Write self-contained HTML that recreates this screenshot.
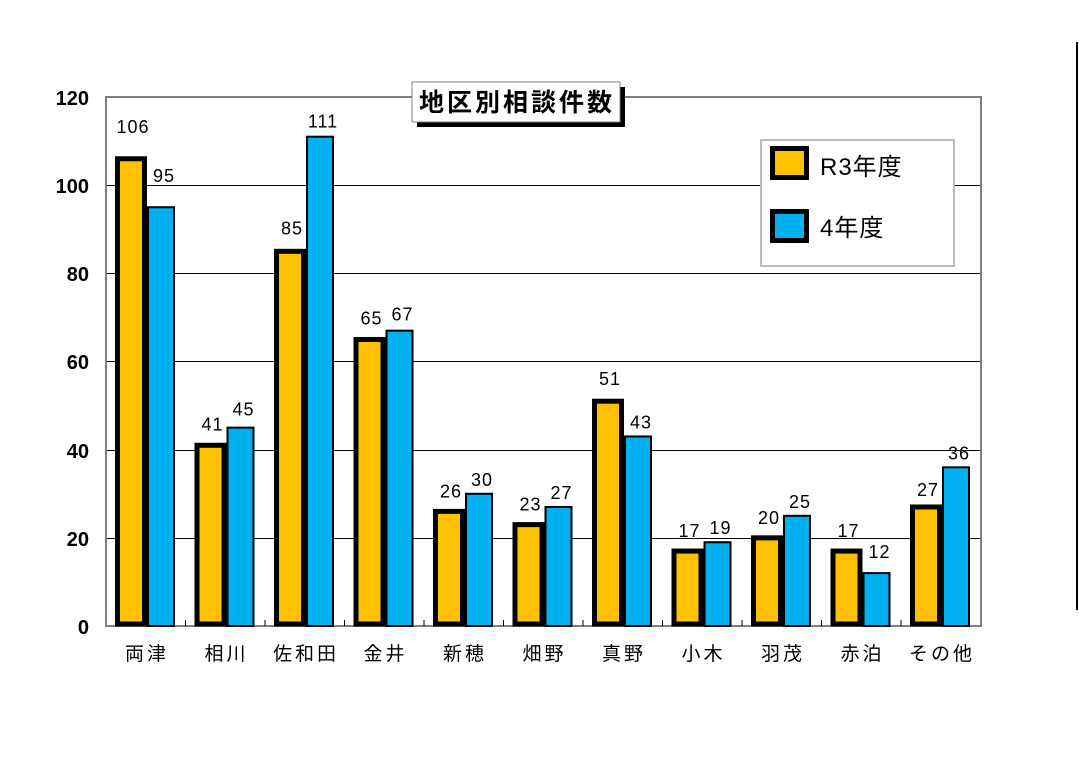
<!DOCTYPE html>
<html><head><meta charset="utf-8"><style>
body{margin:0;background:#fff;}
svg{display:block;}
</style></head><body>
<svg width="1079" height="781" xmlns="http://www.w3.org/2000/svg" font-family="Liberation Sans, Noto Sans CJK JP, sans-serif">
<rect width="1079" height="781" fill="#fff"/>
<line x1="1077" y1="42" x2="1077" y2="610" stroke="#000" stroke-width="2"/>
<g stroke="#000" stroke-width="1">
<line x1="106" x2="981" y1="538.5" y2="538.5"/>
<line x1="106" x2="981" y1="450.5" y2="450.5"/>
<line x1="106" x2="981" y1="361.5" y2="361.5"/>
<line x1="106" x2="981" y1="273.5" y2="273.5"/>
<line x1="106" x2="981" y1="185.5" y2="185.5"/>
</g>
<rect x="106" y="97" width="875" height="529" fill="none" stroke="#808080" stroke-width="2"/>
<g font-weight="bold" font-size="20" text-anchor="end" fill="#000">
<text x="89" y="634">0</text><text x="89" y="546">20</text><text x="89" y="458">40</text>
<text x="89" y="369">60</text><text x="89" y="281">80</text><text x="89" y="193">100</text><text x="89" y="105">120</text>
</g>
<g id="bars"></g>
<g id="labels" font-size="18" text-anchor="middle" letter-spacing="1"></g>
<g id="cats" font-size="19" text-anchor="middle" letter-spacing="3"></g>
<rect x="761" y="140" width="193" height="126" fill="#fff" stroke="#bbb" stroke-width="2"/>
<rect x="772.5" y="148.5" width="34" height="29" fill="#FFC000" stroke="#000" stroke-width="5"/>
<text x="820" y="175" font-size="24" letter-spacing="1">R3年度</text>
<rect x="772.5" y="211.5" width="34" height="29" fill="#00B0F0" stroke="#000" stroke-width="5"/>
<text x="820" y="236" font-size="24" letter-spacing="1">4年度</text>
<rect x="417" y="87" width="208" height="40" fill="#000"/>
<rect x="412" y="82" width="208" height="40" fill="#fff" stroke="#808080" stroke-width="1"/>
<text x="517" y="111" font-size="25" font-weight="bold" text-anchor="middle" letter-spacing="3">地区別相談件数</text>
</svg>
<script>
var cats=["両津","相川","佐和田","金井","新穂","畑野","真野","小木","羽茂","赤泊","その他"];
var a=[106,41,85,65,26,23,51,17,20,17,27],b=[95,45,111,67,30,27,43,19,25,12,36];
var oa=[26,15,17,15,14,14,16,14,14,14,11],ob=[25,12,9,10,8,8,8,8,8,15,8];
var ns="http://www.w3.org/2000/svg",s=4.408,base=626;
function el(t,at,p,tx){var e=document.createElementNS(ns,t);for(var k in at)e.setAttribute(k,at[k]);if(tx!=null)e.textContent=tx;document.getElementById(p).appendChild(e);}
for(var i=0;i<11;i++){var x0=106+79.5*i;
var ta=base-a[i]*s,tb=base-b[i]*s;
el("rect",{x:x0+42,y:tb,width:26,height:base-tb,fill:"#00B0F0",stroke:"#000","stroke-width":2},"bars");
el("rect",{x:x0+11.5,y:ta,width:27,height:base-ta-2,fill:"#FFC000",stroke:"#000","stroke-width":5},"bars");
el("text",{x:x0+27,y:ta-oa[i]},"labels",String(a[i]));
el("text",{x:x0+58,y:tb-ob[i]},"labels",String(b[i]));
el("text",{x:x0+41,y:660},"cats",cats[i]);
if(i>0)el("line",{x1:x0,x2:x0,y1:620,y2:626,stroke:"#000","stroke-width":1},"bars");
}
</script>
</body></html>
